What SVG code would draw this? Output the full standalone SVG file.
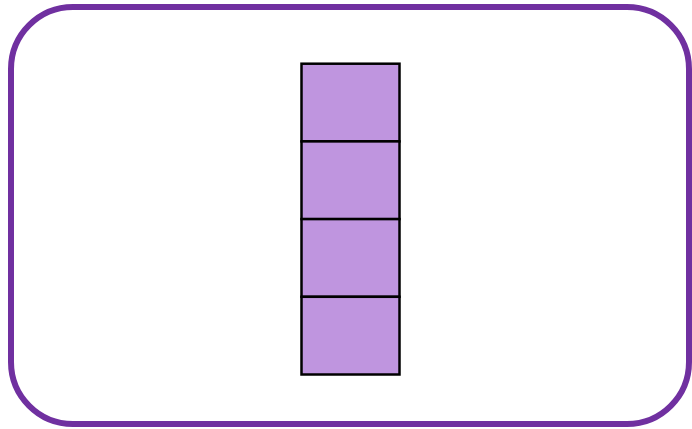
<svg xmlns="http://www.w3.org/2000/svg" width="692" height="429" viewBox="0 0 692 429">
<style>
.frame{fill:#fff;stroke:#7030A0;stroke-width:6}
.cell{fill:#BF95DF;stroke:#000;stroke-width:2.5}
</style>
<rect x="0" y="0" width="692" height="429" fill="#fff"/>
<g id="frame"><rect class="frame" x="11" y="7" width="678" height="417" rx="62" ry="62"/></g>
<g id="cell1"><rect class="cell" x="301.5" y="63.7" width="98" height="77.7"/></g>
<g id="cell2"><rect class="cell" x="301.5" y="141.4" width="98" height="77.7"/></g>
<g id="cell3"><rect class="cell" x="301.5" y="219.1" width="98" height="77.7"/></g>
<g id="cell4"><rect class="cell" x="301.5" y="296.8" width="98" height="77.7"/></g>
<g id="connectors"></g>
</svg>
